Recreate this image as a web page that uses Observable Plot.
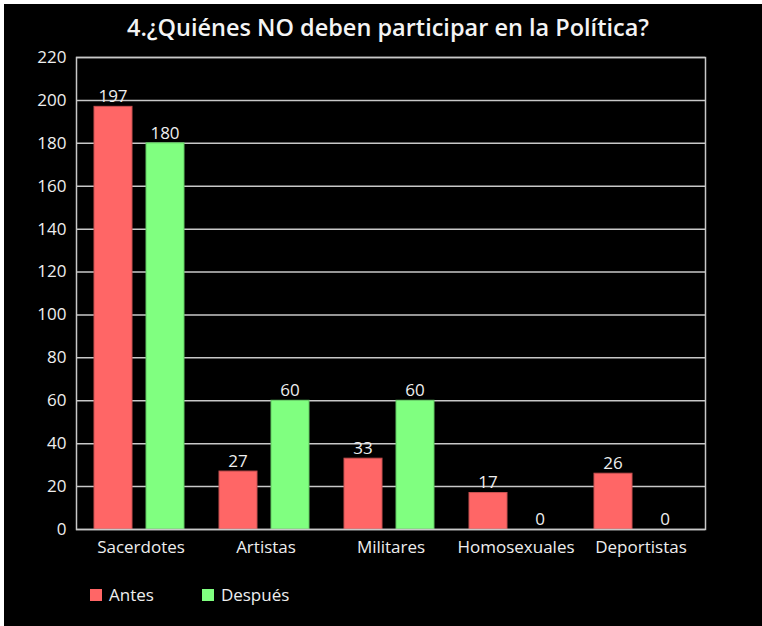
<!DOCTYPE html>
<html>
<head>
<meta charset="utf-8">
<script src="https://cdn.jsdelivr.net/npm/d3@7"></script>
<script src="https://cdn.jsdelivr.net/npm/@observablehq/plot@0.6"></script>
<style>
  html, body { margin: 0; padding: 0; background: #fff; }
  #box { position: absolute; left: 4px; top: 4px; width: 758px; height: 622px; background: #000; font-family: "Open Sans", sans-serif; color: #eee; }
  #title { position: absolute; left: 5px; top: 7px; width: 758px; text-align: center; font-size: 23.5px; font-weight: 600; color: #f4f4f4; }
  #chart { position: absolute; left: 0; top: 36px; }
  #legend { position: absolute; left: 86px; top: 579px; font-size: 17px; color: #eee; display: flex; align-items: center; }
  .sw { display: inline-block; width: 12px; height: 12px; margin-right: 7px; }
  .item { display: flex; align-items: center; margin-right: 48px; }
</style>
</head>
<body>
<div id="box">
  <div id="title">4.¿Quiénes NO deben participar en la Política?</div>
  <div id="chart"></div>
  <div id="legend"></div>
</div>
<script>
const categories = ["Sacerdotes", "Artistas", "Militares", "Homosexuales", "Deportistas"];
const seriesNames = ["Antes", "Después"];
const antes = [197, 27, 33, 17, 26];
const despues = [180, 60, 60, 0, 0];
const yTicks = [0, 20, 40, 60, 80, 100, 120, 140, 160, 180, 200, 220];
const colors = ["#ff6666", "#80ff80"];
const strokes = ["#c85050", "#60c860"];

const data = categories.flatMap((c, i) => [
  {cat: c, series: seriesNames[0], value: antes[i]},
  {cat: c, series: seriesNames[1], value: despues[i]}
]);
const dA = data.filter(d => d.series === seriesNames[0]);
const dD = data.filter(d => d.series === seriesNames[1]);

const plot = Plot.plot({
  width: 758,
  height: 529,
  marginLeft: 72,
  marginRight: 57,
  marginTop: 17,
  marginBottom: 40,
  style: {background: "transparent", color: "#eee", fontFamily: "Open Sans, sans-serif", fontSize: "17px"},
  x: {domain: categories, paddingInner: 0, paddingOuter: 0, label: null, tickSize: 0, tickPadding: 11},
  y: {domain: [0, 220], ticks: yTicks, label: null, tickSize: 0, tickPadding: 10},
  marks: [
    Plot.ruleY(yTicks, {stroke: "#c8c8c8", strokeWidth: 1.5}),
    Plot.barY(dA, {x: "cat", y: "value", fill: colors[0], stroke: strokes[0], strokeWidth: 1, insetLeft: 16, insetRight: 71}),
    Plot.barY(dD, {x: "cat", y: "value", fill: colors[1], stroke: strokes[1], strokeWidth: 1, insetLeft: 68, insetRight: 19}),
    Plot.text(dA, {x: "cat", y: "value", text: "value", dx: -28, dy: -10, fill: "#eee", fontSize: 17}),
    Plot.text(dD, {x: "cat", y: "value", text: "value", dx: 24, dy: -10, fill: "#eee", fontSize: 17}),
    Plot.frame({stroke: "#c8c8c8", strokeWidth: 1.5})
  ]
});
document.getElementById("chart").appendChild(plot);

const legend = document.getElementById("legend");
seriesNames.forEach((s, i) => {
  const it = document.createElement("div");
  it.className = "item";
  const sw = document.createElement("span");
  sw.className = "sw";
  sw.style.background = colors[i];
  it.appendChild(sw);
  it.appendChild(document.createTextNode(s));
  legend.appendChild(it);
});
</script>
</body>
</html>
